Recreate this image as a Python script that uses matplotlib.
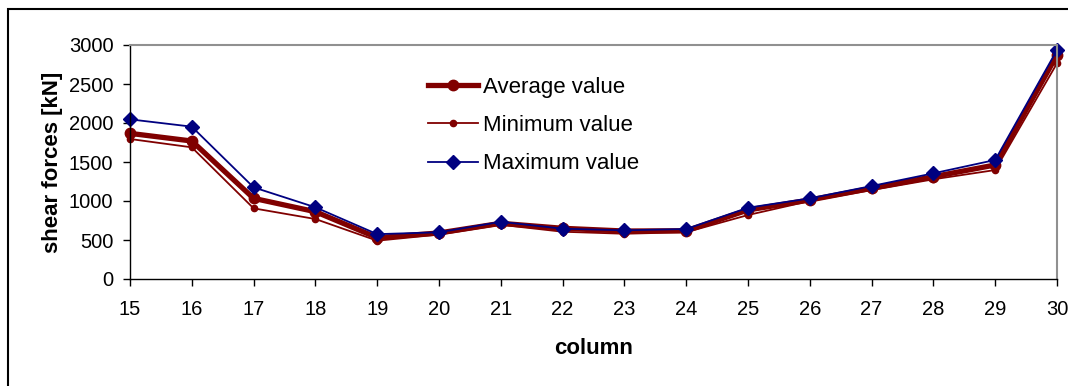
import matplotlib.pyplot as plt
from matplotlib.patches import Rectangle

plt.rcParams['font.family'] = ['Liberation Sans', 'DejaVu Sans']

columns = list(range(15, 31))
average_vals = [1867, 1769, 1034, 863, 530, 590, 714, 650, 615, 618, 885, 1013, 1163, 1312, 1462, 2872]
minimum_vals = [1795, 1688, 906, 769, 491, 570, 695, 606, 580, 600, 820, 1000, 1140, 1278, 1397, 2765]
maximum_vals = [2047, 1953, 1175, 919, 575, 599, 733, 645, 624, 641, 914, 1034, 1192, 1355, 1526, 2936]

W, H = 1068, 386
fig = plt.figure(figsize=(W / 100, H / 100), dpi=100)

# outer chart border (runs past the right and bottom edges)
fig.patches.append(Rectangle((8 / W, -0.2), 1.2, 1.2 - 9 / H,
                             transform=fig.transFigure, fill=False,
                             edgecolor='black', linewidth=1.5))

ax = fig.add_axes([130 / W, 1 - 279 / H, (1057 - 130) / W, (279 - 45) / H])

dark_red = '#800000'
navy = '#000080'

ax.plot(columns, average_vals, color=dark_red, linewidth=3.8, marker='o',
        markersize=7.5, label='Average value', clip_on=False)
ax.plot(columns, minimum_vals, color=dark_red, linewidth=1.3, marker='o',
        markersize=4.5, label='Minimum value', clip_on=False)
ax.plot(columns, maximum_vals, color=navy, linewidth=1.3, marker='D',
        markersize=7, label='Maximum value', clip_on=False)

ax.set_xlim(15, 30)
ax.set_ylim(0, 3000)
ax.set_xticks(columns)
ax.set_yticks(range(0, 3001, 500))
ax.tick_params(axis='both', direction='out', length=5, width=1, labelsize=14.5)
ax.tick_params(axis='y', pad=7)
ax.tick_params(axis='x', pad=10)

for side in ('top', 'right'):
    ax.spines[side].set_color('#909090')
    ax.spines[side].set_linewidth(1.5)
for side in ('left', 'bottom'):
    ax.spines[side].set_color('black')
    ax.spines[side].set_linewidth(1)

ax.set_ylabel('shear forces [kN]', fontsize=16, fontweight='bold', labelpad=4)
ax.set_xlabel('column', fontsize=16, fontweight='bold', labelpad=14)

ax.legend(loc='upper left', bbox_to_anchor=(0.3, 0.95), frameon=False,
          fontsize=16, handlelength=2.25, handletextpad=0.2, labelspacing=0.78)

fig.savefig('out.png', dpi=100)
